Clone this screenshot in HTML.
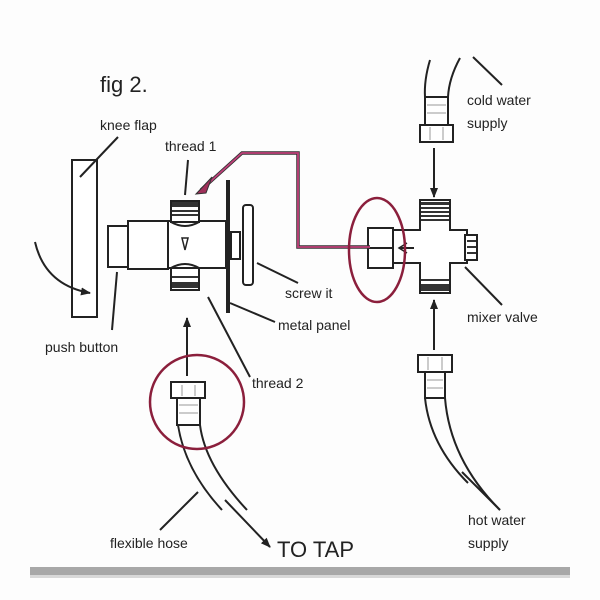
<!DOCTYPE html>
<html><head><style>
body{margin:0;background:#fff;}
svg{display:block;}
text{font-family:"Liberation Sans",Arial,sans-serif;fill:#222;}
</style></head><body>
<svg width="600" height="600" viewBox="0 0 600 600" xmlns="http://www.w3.org/2000/svg">
<defs>
<marker id="ah" markerWidth="10" markerHeight="10" refX="9" refY="5" orient="auto" markerUnits="userSpaceOnUse"><path d="M0,1 L10,5 L0,9 Z" fill="#222"/></marker>
</defs>
<rect width="600" height="600" fill="#fdfdfd"/>
<g stroke="#222" stroke-width="2" fill="none">
<!-- knee flap -->
<rect x="72" y="160" width="25" height="157" fill="#fff"/>
<line x1="80" y1="177" x2="118" y2="137"/>
<path d="M35,242 Q45,285 90,293" marker-end="url(#ah)"/>
<!-- valve -->
<rect x="108" y="226" width="20" height="41" fill="#fff"/>
<rect x="128" y="221" width="40" height="48" fill="#fff"/>
<path d="M168,221 H226 V268 H168 Z" fill="#fff"/>
<path d="M171,222 Q185,230 199,222" />
<path d="M171,268 Q185,260 199,268" />
<rect x="171" y="201" width="28" height="21" fill="#fff"/>
<rect x="171" y="268" width="28" height="22" fill="#fff"/>
<path d="M182,238 L188,238 L185,250 Z" stroke-width="1.5"/>
<rect x="231" y="232" width="9" height="27" fill="#fff"/>
<rect x="243" y="205" width="10" height="80" rx="3" fill="#fff"/>
<line x1="228" y1="180" x2="228" y2="313" stroke-width="4"/>
<line x1="188" y1="160" x2="185" y2="195"/>
<line x1="257" y1="263" x2="298" y2="283"/>
<line x1="230" y1="303" x2="275" y2="322"/>
<line x1="117" y1="272" x2="112" y2="330"/>
<line x1="208" y1="297" x2="250" y2="377"/>
<!-- left hose -->
<line x1="187" y1="376" x2="187" y2="318" marker-end="url(#ah)"/>
<rect x="171" y="382" width="34" height="16" fill="#fff"/>
<rect x="177" y="398" width="23" height="27" fill="#fff"/>
<path d="M178,425 Q185,470 222,510"/>
<path d="M200,425 Q205,465 247,510"/>
<line x1="225" y1="500" x2="270" y2="547" marker-end="url(#ah)"/>
<line x1="198" y1="492" x2="160" y2="530"/>
<!-- mixer -->
<path d="M430,60 Q424,80 425,97"/>
<path d="M460,58 Q449,78 448,97"/>
<line x1="473" y1="57" x2="502" y2="85"/>
<rect x="425" y="97" width="23" height="28" fill="#fff"/>
<rect x="420" y="125" width="33" height="17" fill="#fff"/>
<line x1="434" y1="148" x2="434" y2="197" marker-end="url(#ah)"/>
<path d="M393,230 H420 V200 H450 V230 H467 V263 H450 V293 H420 V263 H393 Z" fill="#fff"/>
<rect x="465" y="235" width="12" height="25" fill="#fff"/>
<rect x="368" y="228" width="25" height="40" fill="#fff"/>
<line x1="368" y1="248" x2="393" y2="248"/>
<path d="M407,243 L399,248 L407,253" stroke-width="1.5"/>
<line x1="399" y1="248" x2="414" y2="248"/>
<line x1="465" y1="267" x2="502" y2="305"/>
<line x1="434" y1="350" x2="434" y2="300" marker-end="url(#ah)"/>
<rect x="418" y="355" width="34" height="17" fill="#fff"/>
<rect x="425" y="372" width="20" height="26" fill="#fff"/>
<path d="M425,398 Q430,445 468,483"/>
<path d="M445,398 Q450,460 500,510"/>
<line x1="462" y1="472" x2="500" y2="510"/>
</g>
<!-- thread bands -->
<g fill="#333">
<rect x="172" y="202" width="26" height="5"/><rect x="172" y="210" width="26" height="2"/><rect x="172" y="214" width="26" height="2"/>
<rect x="172" y="282" width="26" height="6"/><rect x="172" y="276" width="26" height="2"/>
<rect x="421" y="202" width="28" height="3"/><rect x="421" y="207" width="28" height="2"/><rect x="421" y="211" width="28" height="2"/><rect x="421" y="215" width="28" height="2"/><rect x="421" y="219" width="28" height="2"/>
<rect x="421" y="284" width="28" height="7"/><rect x="421" y="279" width="28" height="2"/>
<rect x="467" y="240" width="9" height="2"/><rect x="467" y="246" width="9" height="2"/><rect x="467" y="252" width="9" height="2"/>
</g>
<g stroke="#999" stroke-width="1" fill="none">
<line x1="182" y1="385" x2="182" y2="396"/><line x1="195" y1="385" x2="195" y2="396"/>
<line x1="179" y1="405" x2="198" y2="405"/><line x1="179" y1="413" x2="198" y2="413"/>
<line x1="430" y1="127" x2="430" y2="140"/><line x1="443" y1="127" x2="443" y2="140"/>
<line x1="427" y1="105" x2="446" y2="105"/><line x1="427" y1="113" x2="446" y2="113"/>
<line x1="428" y1="357" x2="428" y2="370"/><line x1="442" y1="357" x2="442" y2="370"/>
<line x1="427" y1="380" x2="443" y2="380"/><line x1="427" y1="388" x2="443" y2="388"/>
</g>
<!-- magenta annotations -->
<path d="M201,190 L242,153 H298 V247 H370" fill="none" stroke="#333" stroke-width="3.5"/>
<path d="M201,190 L242,153 H298 V247 H370" fill="none" stroke="#c0407a" stroke-width="1.8"/>
<path d="M196,194 L212,177 L206,193 Z" fill="#a0305a" stroke="#333" stroke-width="1"/>
<ellipse cx="377" cy="250" rx="28" ry="52" fill="none" stroke="#8b1f3c" stroke-width="2.5"/>
<circle cx="197" cy="402" r="47" fill="none" stroke="#8b1f3c" stroke-width="2.5"/>
<!-- text -->
<text x="100" y="92" font-size="22">fig 2.</text>
<text x="100" y="130" font-size="14">knee flap</text>
<text x="165" y="151" font-size="14">thread 1</text>
<text x="285" y="298" font-size="14">screw it</text>
<text x="278" y="330" font-size="14">metal panel</text>
<text x="45" y="352" font-size="14">push button</text>
<text x="252" y="388" font-size="14">thread 2</text>
<text x="110" y="548" font-size="14">flexible hose</text>
<text x="277" y="557" font-size="22">TO TAP</text>
<text x="467" y="105" font-size="14">cold water</text>
<text x="467" y="128" font-size="14">supply</text>
<text x="467" y="322" font-size="14">mixer valve</text>
<text x="468" y="525" font-size="14">hot water</text>
<text x="468" y="548" font-size="14">supply</text>
<rect x="30" y="567" width="540" height="8" fill="#a8a8a8"/>
<rect x="30" y="575" width="540" height="3" fill="#d8d8d8"/>
</svg>
</body></html>
